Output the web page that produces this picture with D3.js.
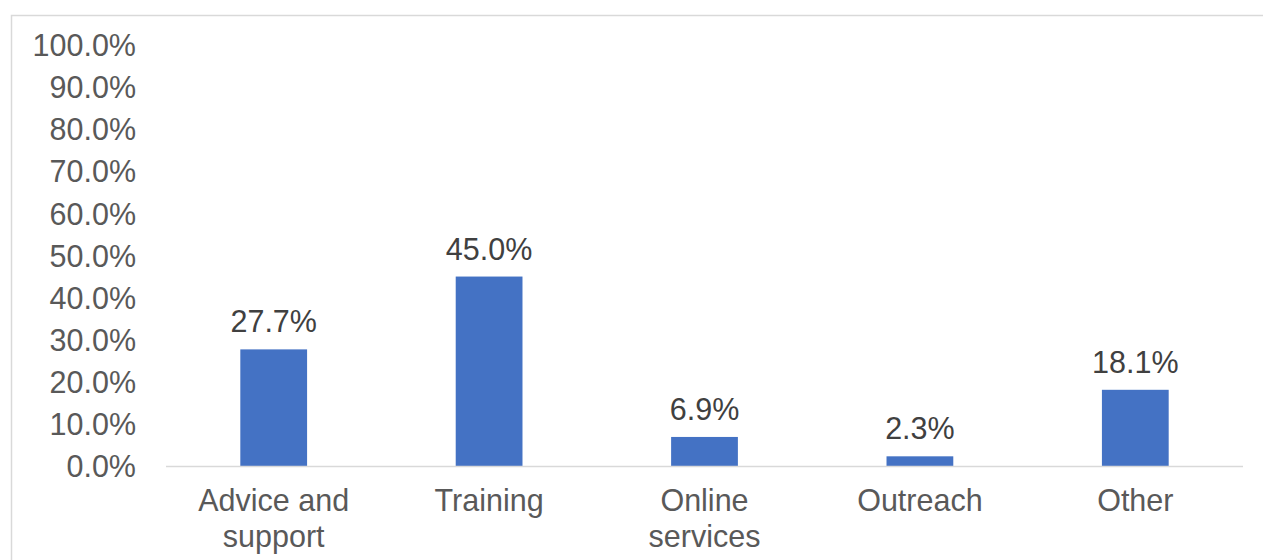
<!DOCTYPE html>
<html>
<head>
<meta charset="utf-8">
<script src="https://d3js.org/d3.v7.min.js"></script>
<style>
  body { margin: 0; background: #fff; }
  svg { display: block; font-family: "Liberation Sans", Arial, sans-serif; }
</style>
</head>
<body>
<svg id="chart" width="1263" height="560"></svg>
<script>
// data
var categories = [["Advice and", "support"], ["Training"], ["Online", "services"], ["Outreach"], ["Other"]];
var values = [27.7, 45.0, 6.9, 2.3, 18.1];
var yTicks = [0, 10, 20, 30, 40, 50, 60, 70, 80, 90, 100];

var plotLeft = 166, plotRight = 1243, plotTop = 45, plotBottom = 466;
var fontSize = "30.5px";

var svg = d3.select("#chart");

// chart frame
svg.append("rect")
    .attr("x", 11.5).attr("y", 15.5)
    .attr("width", 1270).attr("height", 560)
    .attr("fill", "none")
    .attr("stroke", "#d9d9d9")
    .attr("stroke-width", 1.5);

var x = d3.scaleBand()
    .domain(d3.range(categories.length))
    .range([plotLeft, plotRight])
    .paddingInner(0.69)
    .paddingOuter(0.345);

var y = d3.scaleLinear()
    .domain([0, 100])
    .range([plotBottom, plotTop]);

// y labels
var yAxis = d3.axisLeft(y)
    .tickValues(yTicks)
    .tickSize(0)
    .tickPadding(0)
    .tickFormat(function(d) { return d.toFixed(1) + "%"; });

var gy = svg.append("g")
    .attr("transform", "translate(136,0)")
    .call(yAxis);
gy.select(".domain").remove();
gy.selectAll("text")
    .attr("fill", "#595959")
    .attr("font-family", null)
    .style("font-size", fontSize)
    .attr("dy", "0.35em");
gy.attr("font-family", null).attr("font-size", null);

// bars
svg.selectAll(".bar")
    .data(values)
  .enter().append("rect")
    .attr("class", "bar")
    .attr("x", function(d, i) { return x(i); })
    .attr("y", function(d) { return y(d); })
    .attr("width", x.bandwidth())
    .attr("height", function(d) { return y(0) - y(d); })
    .attr("fill", "#4472c4");

// baseline
svg.append("line")
    .attr("x1", plotLeft).attr("x2", plotRight)
    .attr("y1", y(0) + 0.5).attr("y2", y(0) + 0.5)
    .attr("stroke", "#d9d9d9")
    .attr("stroke-width", 1.5);

// value labels
svg.selectAll(".val")
    .data(values)
  .enter().append("text")
    .attr("class", "val")
    .attr("x", function(d, i) { return x(i) + x.bandwidth() / 2; })
    .attr("y", function(d) { return y(d) - 17; })
    .attr("text-anchor", "middle")
    .attr("fill", "#404040")
    .style("font-size", fontSize)
    .text(function(d) { return d.toFixed(1) + "%"; });

// category labels
var cat = svg.selectAll(".cat")
    .data(categories)
  .enter().append("text")
    .attr("class", "cat")
    .attr("text-anchor", "middle")
    .attr("fill", "#595959")
    .style("font-size", fontSize);

cat.selectAll("tspan")
    .data(function(d, i) { return d.map(function(t) { return { t: t, i: i }; }); })
  .enter().append("tspan")
    .attr("x", function(d) { return x(d.i) + x.bandwidth() / 2; })
    .attr("y", function(d, j) { return 511 + j * 36; })
    .text(function(d) { return d.t; });
</script>
</body>
</html>
